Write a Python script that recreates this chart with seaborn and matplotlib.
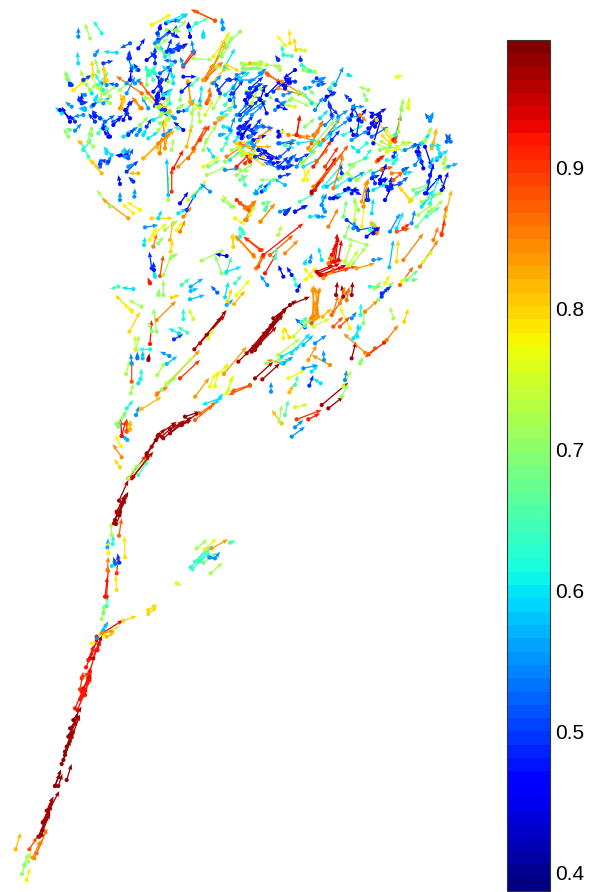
import matplotlib
matplotlib.use("Agg")
import matplotlib.pyplot as plt
from matplotlib.colors import Normalize
from matplotlib.cm import ScalarMappable
import numpy as np
import pandas as pd
import seaborn as sns

# vectors, per region: tail x, tail y, tip x, tip y, value
# (coordinates are in 3x units relative to the region corner)
top_left = [
    (525,62,452,28,.88),(335,75,395,42,.78),(378,70,420,58,.5),(415,62,445,40,.58),(548,88,545,52,.55),
    (115,110,115,82,.55),(185,100,160,62,.62),(150,115,135,70,.72),(352,100,365,70,.5),(445,80,445,65,.47),
    (450,110,445,70,.47),(490,110,490,88,.58),(408,90,440,60,.7),(470,70,505,55,.65),(385,95,420,115,.47),
    (355,120,395,90,.5),(600,95,560,135,.7),(545,160,568,95,.74),(520,200,555,115,.83),(495,240,560,130,.85),
    (395,155,445,130,.47),(430,200,470,150,.92),(295,145,315,115,.48),(270,130,240,145,.52),(230,158,190,155,.6),
    (165,165,178,145,.55),(115,190,112,155,.6),(320,180,350,155,.47),(345,190,345,140,.5),(375,170,360,135,.6),
    (395,195,385,150,.62),(400,155,420,125,.52),(355,145,390,170,.68),(270,175,265,155,.5),(275,205,262,165,.52),
    (190,190,220,182,.5),(175,215,165,175,.7),(160,225,155,180,.8),(140,255,120,210,.72),(100,270,150,230,.78),
    (80,235,75,210,.72),(95,255,80,240,.5),(175,255,205,215,.65),(195,245,190,195,.82),(305,280,228,228,.86),
    (350,310,295,240,.88),(345,318,385,270,.5),(210,620,170,570,.72),(265,655,185,595,.83),(240,600,240,575,.55),
    (283,590,285,565,.55),(300,630,260,605,.78),(280,640,245,610,.78),(335,655,400,655,.8),(385,600,385,525,.72),
    (395,575,395,505,.9),(400,505,430,450,.92),(385,585,380,475,.58),(420,610,445,575,.47),(440,630,470,575,.5),
    (415,640,440,625,.6),(445,600,500,540,.75),(460,590,490,555,.6),(430,650,455,620,.85),(355,655,365,630,.6),
    (590,600,630,630,.9),(620,625,650,600,.85),(580,620,545,585,.73),(510,575,480,550,.55),(240,552,235,525,.48),
    (280,545,265,530,.5),(260,515,295,482,.5),(295,520,265,520,.82),(185,520,150,478,.82),(180,495,180,475,.5),
    (202,490,215,465,.55),(145,470,125,430,.65),(215,465,190,440,.6),(260,470,225,465,.47),(255,470,270,445,.55),
    (250,455,255,440,.6),(85,410,70,385,.7),(265,400,295,380,.55),(290,405,305,385,.55),(190,385,190,365,.47),
    (205,410,190,390,.47),(165,365,145,340,.5),(130,345,100,350,.55),(135,325,115,325,.58),(65,340,45,320,.6),
    (90,365,65,320,.47),(118,300,115,285,.5),(155,320,190,295,.58),(220,365,250,345,.52),(260,340,270,300,.5),
    (270,355,255,330,.47),(300,375,325,350,.7),(240,325,250,285,.85),(300,325,280,295,.82),(315,295,345,290,.72),
    (350,320,300,275,.75),(365,330,385,350,.5),(340,360,395,330,.6),(385,340,345,320,.65),(355,390,395,350,.72),
    (360,370,405,340,.68),(375,445,370,360,.85),(358,460,350,430,.82),(310,475,395,390,.83),(370,405,400,385,.55),
    (430,390,400,365,.47),(415,335,445,330,.5),(455,380,460,300,.72),(440,440,455,380,.82),(480,320,480,290,.55),
    (505,300,515,275,.88),(500,310,505,290,.88),(450,305,445,235,.82),(420,300,425,260,.7),(490,240,520,190,.85),
    (515,250,560,200,.82),(540,280,525,245,.5),(580,280,610,240,.5),(555,285,590,250,.6),(430,230,470,230,.48),
    (400,250,395,215,.6),(365,240,345,225,.5),(370,295,355,235,.47),(340,240,320,200,.65),(350,300,355,270,.47),
    (320,255,320,195,.7),(200,255,175,245,.55),(130,240,155,225,.5),(260,250,280,225,.55),(240,270,275,235,.72),
    (290,210,270,190,.6),(285,250,305,235,.55),(265,175,270,150,.5),(250,305,240,280,.8),(190,310,210,290,.55),
    (165,300,175,280,.6),(185,270,165,250,.7),(150,270,170,250,.72),(210,290,190,240,.72),(155,280,145,260,.6),
    (600,240,650,240,.55),(610,205,655,205,.72),(610,195,660,190,.75),(590,225,620,215,.55),(630,290,660,255,.5),
    (620,310,640,270,.48),(600,360,655,300,.5),(610,385,640,345,.5),(625,410,655,395,.48),(595,400,620,370,.47),
    (640,440,660,410,.55),(575,450,640,420,.72),(560,470,620,430,.85),(505,500,540,480,.68),(520,470,500,440,.6),
    (490,500,540,470,.78),(545,450,565,420,.65),(585,425,600,400,.6),(590,500,630,460,.92),(555,510,600,505,.55),
    (615,555,605,520,.65),(590,525,640,490,.72),(500,525,560,500,.72),(525,370,550,350,.85),(460,445,500,375,.88),
    (480,420,510,375,.9),(445,475,490,400,.87),(415,500,470,445,.84),(500,420,530,375,.72),(490,450,500,415,.72),
    (495,345,520,300,.75),(480,365,475,330,.72),(545,340,580,320,.6),(590,345,625,310,.55),(520,325,545,280,.72),
]

top_right = [
    (150,70,148,28,.79),(168,90,162,52,.8),(135,75,110,45,.77),(195,92,170,85,.75),(130,105,125,75,.62),
    (115,120,105,105,.5),(182,120,180,105,.5),(155,108,130,105,.65),(5,130,75,125,.72),(10,145,50,145,.7),
    (30,130,70,135,.82),(0,175,30,155,.6),(60,160,80,145,.55),(85,165,125,190,.87),(120,150,100,130,.72),
    (165,150,130,175,.47),(145,185,130,170,.47),(225,155,180,135,.72),(190,150,215,160,.7),(220,185,255,185,.55),
    (230,175,250,190,.5),(285,195,310,140,.55),(270,205,285,180,.65),(325,165,340,170,.6),(330,240,312,222,.5),
    (280,220,260,205,.5),(385,210,355,200,.72),(380,240,368,215,.7),(470,170,490,168,.77),(485,270,490,235,.7),
    (505,262,508,230,.76),(570,302,555,280,.52),(570,302,580,275,.55),(555,365,575,320,.72),(580,370,590,325,.82),
    (632,365,620,345,.53),(620,365,632,340,.52),(170,345,180,285,.92),(215,370,250,300,.88),(205,385,240,325,.85),
    (180,350,250,370,.85),(250,360,300,295,.87),(30,205,70,170,.5),(25,230,60,195,.48),(100,215,135,185,.5),
    (135,205,160,180,.47),(130,195,150,170,.47),(60,205,100,240,.7),(115,205,190,225,.84),(20,215,80,250,.72),
    (130,225,160,215,.55),(150,240,120,260,.68),(190,225,240,260,.72),(200,205,225,225,.68),(215,250,185,215,.6),
    (165,260,135,255,.75),(255,240,285,215,.52),(275,285,265,240,.5),(240,295,265,270,.6),(295,290,325,270,.55),
    (340,260,375,260,.55),(335,285,340,255,.48),(355,300,380,265,.47),(325,295,365,285,.55),(395,290,440,265,.47),
    (420,290,385,275,.47),(405,320,425,285,.47),(385,340,410,290,.48),(360,285,380,305,.85),(465,345,485,285,.62),
    (440,330,460,360,.75),(410,300,460,370,.8),(460,360,475,345,.92),(5,355,30,310,.47),(40,340,10,320,.5),
    (50,320,25,360,.52),(0,320,30,300,.48),(30,350,70,310,.55),(60,350,100,320,.85),(115,350,130,325,.48),
    (120,370,170,360,.55),(135,375,165,385,.65),(215,395,280,330,.65),(225,370,285,300,.7),(270,340,325,300,.55),
    (310,345,370,315,.62),(335,360,385,330,.55),(340,345,330,320,.47),(350,345,360,285,.5),(395,350,445,320,.52),
    (400,365,445,390,.72),(450,380,500,395,.68),(490,368,520,368,.72),(525,375,555,370,.52),(575,378,605,375,.6),
    (555,380,575,440,.47),(530,395,550,440,.47),(460,410,470,385,.5),(440,420,480,420,.62),(600,400,590,375,.6),
    (615,445,615,405,.72),(625,440,655,430,.57),(590,420,610,400,.55),(545,425,530,395,.5),(570,465,580,430,.48),
    (600,470,615,510,.47),(215,520,290,410,.93),(225,510,290,420,.92),(215,515,270,440,.97),(220,500,310,400,.85),
    (190,480,210,445,.78),(185,430,205,490,.78),(245,480,325,375,.88),(250,500,310,430,.62),(260,500,305,470,.58),
    (270,535,300,525,.5),(165,575,200,555,.47),(120,575,145,568,.55),(135,582,150,568,.5),(235,590,260,590,.55),
    (265,620,295,565,.85),(245,555,250,520,.58),(60,605,105,550,.82),(15,565,50,545,.85),(20,600,45,550,.85),
    (0,550,25,570,.88),(45,520,70,490,.58),(65,515,85,490,.5),(70,550,95,545,.68),(75,570,85,550,.65),
    (115,445,70,425,.55),(120,440,165,435,.5),(120,470,155,460,.5),(130,445,155,440,.48),(100,480,55,480,.7),
    (90,425,40,410,.5),(70,410,25,400,.8),(0,390,60,420,.78),(30,410,80,440,.8),(15,430,35,405,.9),
    (0,450,30,455,.72),(0,480,25,465,.68),(300,475,350,430,.72),(290,500,335,470,.62),(315,510,360,510,.47),
    (335,520,350,500,.48),(365,545,380,480,.83),(380,540,380,500,.5),(345,600,345,530,.75),(310,590,320,540,.68),
    (365,620,375,545,.78),(395,580,400,535,.6),(320,600,360,630,.5),(355,630,410,620,.52),(395,610,415,625,.82),
    (410,640,420,620,.85),(420,490,440,470,.48),(445,510,455,470,.47),(400,460,440,440,.55),(460,480,490,455,.88),
    (510,545,470,485,.8),(510,540,545,510,.72),(520,510,575,490,.68),(555,520,600,470,.47),(545,560,580,510,.6),
    (535,585,580,550,.72),(560,590,600,560,.65),(605,640,620,555,.88),(615,590,635,510,.82),(575,570,610,540,.72),
    (450,635,480,580,.55),(470,625,490,575,.6),(470,635,510,625,.88),(490,625,510,610,.9),(515,610,525,570,.55),
    (530,620,575,565,.68),(600,520,615,480,.72),(550,550,590,520,.6),(440,500,490,490,.5),(480,490,505,470,.52),
    (400,510,440,490,.6),(425,450,460,440,.88),(490,450,510,440,.52),(410,425,430,405,.85),(330,435,390,410,.68),
    (350,480,400,445,.68),(170,420,210,400,.5),(115,440,145,410,.5),(145,430,170,400,.55),(190,440,240,415,.6),
    (75,395,120,420,.47),(35,370,75,395,.55),(0,370,50,395,.85),
]

middle_left = [
    (132,75,135,50,.6),(160,80,170,40,.85),(175,70,190,50,.7),(155,145,148,95,.5),(162,150,160,125,.48),
    (150,190,143,172,.92),(180,168,190,105,.88),(165,170,160,150,.6),(190,165,215,105,.72),(212,95,218,60,.8),
    (240,35,255,0,.85),(210,60,220,0,.82),(230,30,250,5,.77),(195,30,235,0,.72),(160,45,200,10,.77),
    (135,22,175,15,.55),(148,60,170,20,.78),(215,110,235,100,.7),(100,207,65,203,.6),(55,200,30,207,.65),
    (95,272,45,225,.8),(125,260,85,240,.72),(95,275,70,250,.78),(88,335,120,275,.8),(170,300,228,243,.84),
    (150,372,155,300,.92),(155,335,145,305,.7),(170,335,160,265,.7),(175,225,178,205,.7),(190,225,190,180,.7),
    (215,232,240,225,.8),(245,195,270,175,.65),(272,200,310,175,.57),(272,213,295,205,.58),(270,238,315,225,.58),
    (352,218,332,197,.52),(375,232,385,185,.6),(383,245,395,205,.8),(380,255,400,238,.57),(402,252,435,212,.82),
    (410,225,450,178,.77),(405,190,425,165,.65),(305,122,375,88,.72),(380,108,345,102,.45),(365,160,345,105,.7),
    (378,160,395,110,.66),(380,155,425,140,.6),(250,297,250,265,.62),(280,297,265,265,.75),(237,340,205,325,.6),
    (262,338,232,320,.65),(222,358,250,342,.5),(283,388,380,270,.97),(300,370,375,285,.95),(320,345,365,290,.97),
    (325,355,340,325,.75),(145,420,148,400,.98),(112,415,112,395,.53),(128,415,128,392,.58),(95,430,92,400,.55),
    (95,485,95,420,.88),(108,390,118,345,.72),(105,388,105,345,.75),(150,388,115,388,.62),(78,462,90,420,.72),
    (115,490,125,465,.6),(122,478,125,445,.62),(92,520,100,490,.72),(208,408,180,395,.55),(200,432,232,408,.58),
    (172,465,195,425,.72),(170,525,300,390,.83),(200,490,280,410,.73),(185,510,230,470,.7),(240,475,300,420,.9),
    (172,520,205,500,.85),(370,460,385,430,.73),(330,500,345,460,.77),(345,498,355,450,.78),(285,530,328,473,.83),
    (352,465,385,430,.78),(372,462,440,380,.83),(380,520,400,465,.77),(385,510,395,470,.75),(450,497,385,525,.88),
    (450,495,390,515,.88),(360,535,305,555,.6),(350,545,370,520,.6),(125,567,185,530,.82),(108,585,118,558,.55),
    (80,565,100,540,.62),(65,648,62,597,.93),(80,633,80,595,.9),(90,630,90,600,.8),(50,612,80,570,.7),
    (55,620,80,575,.68),(168,660,195,625,.98),(190,655,255,600,.97),(210,640,275,590,.97),(245,615,300,575,.97),
    (255,590,300,575,.98),(285,600,340,555,.87),(300,580,350,545,.87),(415,425,470,370,.97),(440,400,500,330,.97),
    (460,385,520,310,.97),(480,365,540,280,.97),(500,340,560,265,.98),(470,378,530,295,.98),(520,295,590,240,.98),
    (570,255,630,230,.98),(462,110,405,48,.83),(485,90,432,50,.88),(468,145,490,100,.85),(475,140,495,100,.88),
    (495,160,530,100,.92),(490,105,610,10,.92),(510,105,580,45,.87),(525,115,530,80,.65),(555,100,595,60,.84),
    (535,45,545,15,.73),(400,80,400,40,.8),(430,40,425,20,.65),
    (465,390,525,310,.97),(475,370,520,305,.98),(485,355,530,300,.97),(490,350,545,275,.97),(495,345,550,285,.97),
    (505,330,560,260,.98),(455,395,510,320,.97),(480,370,530,320,.96),
]

middle_right = [
    (250,125,262,40,.93),(265,120,275,60,.93),(240,130,255,75,.92),(205,160,270,130,.94),(215,165,290,135,.94),
    (225,165,300,145,.9),(250,150,320,140,.88),(220,175,250,150,.83),(320,145,375,130,.83),(295,135,325,90,.74),
    (285,125,305,65,.73),(310,130,348,80,.72),(350,75,290,55,.72),(258,225,262,185,.97),(280,230,275,195,.97),
    (305,225,308,185,.97),(270,250,285,200,.85),(245,285,295,210,.87),(290,240,298,200,.86),(250,275,265,225,.85),
    (190,300,190,195,.83),(198,295,210,200,.83),(205,290,195,200,.83),(185,310,205,260,.88),(165,322,135,295,.52),
    (165,318,185,295,.65),(155,305,175,290,.65),(300,325,270,260,.78),(270,320,300,290,.88),(250,320,280,290,.88),
    (218,290,245,265,.82),(305,295,320,275,.55),(332,285,332,250,.62),(340,310,345,265,.7),(345,275,385,240,.84),
    (385,240,430,185,.7),(395,230,415,200,.5),(395,220,425,198,.5),(360,200,395,200,.63),(375,205,395,185,.72),
    (405,190,420,165,.78),(430,295,420,260,.72),(463,305,475,265,.8),(410,360,445,315,.85),(402,368,345,412,.92),
    (375,385,345,410,.88),(305,415,318,365,.97),(345,398,280,340,.84),(322,350,325,310,.6),(310,355,335,315,.6),
    (418,142,430,60,.58),(440,125,445,60,.8),(460,120,520,40,.85),(450,195,490,140,.87),(455,185,470,170,.76),
    (490,180,505,178,.68),(470,180,505,150,.67),(510,140,565,60,.85),(520,125,550,90,.75),(550,60,565,20,.85),
    (575,45,585,0,.9),(350,50,385,20,.48),(370,40,390,20,.45),(370,120,400,115,.55),(360,30,375,5,.65),
    (310,25,315,0,.55),(285,50,300,10,.7),(100,170,85,135,.45),(125,165,110,140,.48),(142,212,152,188,.48),
    (138,195,130,165,.62),(52,195,30,165,.55),(183,170,160,140,.78),(168,178,200,140,.78),(165,130,170,115,.6),
    (180,125,185,100,.55),(215,120,205,80,.6),(118,352,100,320,.8),(100,355,100,320,.78),(85,405,150,355,.73),
    (95,410,150,380,.6),(100,430,50,420,.85),(100,430,130,410,.55),(125,400,180,340,.6),(175,420,200,375,.83),
    (240,435,185,405,.84),(222,420,220,390,.55),(195,370,230,345,.55),(160,375,190,345,.58),(130,350,180,295,.74),
    (190,320,240,295,.75),(160,445,205,435,.55),(185,455,205,435,.6),(135,495,145,465,.65),(115,475,165,450,.77),
    (178,497,190,465,.5),(212,490,190,475,.6),(63,515,63,485,.55),(118,517,130,495,.82),(95,610,65,570,.82),
    (88,605,95,555,.72),(105,585,115,540,.66),(135,562,175,552,.75),(140,598,215,570,.9),(175,598,210,580,.92),
    (215,555,295,488,.97),(235,565,280,530,.97),(275,530,295,490,.7),(280,500,305,450,.74),(285,480,290,450,.55),
    (135,622,160,600,.55),(125,650,165,620,.55),(15,475,70,425,.97),(37,478,90,430,.97),(50,430,100,415,.7),
    (95,430,120,415,.6),(330,430,340,410,.7),
    (255,125,265,50,.93),(245,105,262,65,.93),(210,165,280,140,.94),(235,130,280,120,.85),(240,115,275,125,.84),
    (200,155,250,135,.95),(188,290,192,200,.84),(200,280,205,205,.84),(195,265,185,200,.83),(183,295,200,240,.84),
]

lower_stem = [
    (365,48,378,0,.92),(380,35,380,0,.88),(390,28,392,0,.82),(382,60,365,45,.57),(363,78,345,45,.78),
    (365,112,338,72,.84),(360,142,342,117,.8),(350,12,360,0,.7),(545,15,575,0,.97),(510,28,550,5,.97),
    (485,50,530,10,.97),(455,80,480,35,.97),(440,100,475,50,.97),(395,175,460,95,.95),(385,175,440,105,.92),
    (415,165,445,120,.65),(385,175,408,140,.72),(410,140,450,110,.7),(357,242,385,180,.97),(367,250,385,215,.97),
    (350,275,375,225,.97),(360,275,378,235,.97),(342,310,355,268,.97),(348,312,365,275,.97),(357,347,365,295,.87),
    (375,412,373,348,.79),(338,372,340,345,.62),(322,382,325,355,.57),(335,345,333,305,.72),(325,400,325,365,.78),
    (322,450,325,410,.85),(320,530,325,440,.92),(315,530,322,470,.92),(350,460,355,405,.9),(350,510,347,465,.79),
    (335,438,358,432,.6),(345,430,340,410,.52),(358,428,352,400,.5),(320,558,322,525,.65),(310,580,312,550,.68),
    (305,597,315,560,.72),(290,650,370,600,.93),(370,602,410,588,.8),(290,655,325,605,.55),(310,630,322,607,.58),
    (275,670,320,640,.78),(300,645,360,618,.73),(305,640,345,632,.84),(320,650,345,635,.82),(270,715,295,650,.95),
    (280,715,300,660,.95),(292,690,305,645,.97),(445,570,472,552,.8),(445,582,472,560,.8),(530,490,545,498,.75),
    (572,442,640,375,.62),(578,448,630,385,.65),(590,385,622,358,.72),(615,388,650,355,.78),(635,385,685,358,.83),
    (598,425,632,398,.63),(610,428,650,398,.68),(585,425,625,380,.65),(628,412,645,415,.55),(645,415,660,395,.55),
    (632,460,668,428,.72),(690,368,708,362,.66),
    (355,285,380,220,.97),(345,300,370,240,.98),(440,105,480,40,.97),(475,45,530,5,.97),(400,170,450,105,.96),
]

bottom_trunk = [
    (80,720,90,683,.78),(66,702,78,665,.7),(72,675,85,640,.7),(85,665,93,635,.72),(47,628,62,578,.82),
    (88,628,112,590,.88),(98,653,122,600,.84),(103,655,128,597,.84),(110,640,142,565,.86),(115,590,140,530,.97),
    (125,585,150,510,.97),(140,512,160,470,.97),(150,505,178,453,.97),(165,438,183,388,.98),(175,438,187,402,.98),
    (200,420,215,372,.98),(185,372,212,300,.98),(195,345,220,270,.98),(205,290,235,220,.98),(215,292,240,225,.97),
    (232,210,262,140,.93),(240,178,268,100,.92),(240,148,250,95,.9),(255,165,272,80,.92),(258,82,280,30,.92),
    (270,95,290,20,.92),(292,30,303,0,.92),(128,548,158,480,.97),(135,540,155,495,.97),(190,360,215,290,.98),
    (210,285,230,240,.98),(245,170,275,110,.92),(262,130,270,90,.92),(265,60,282,15,.92),
    (165,438,180,400,.98),(195,335,215,275,.98),(200,320,225,265,.97),(225,205,255,135,.92),(245,155,270,105,.92),
    (250,145,275,100,.93),(245,115,270,95,.9),(130,545,160,470,.97),(118,590,145,525,.97),(128,570,150,520,.97),
    (210,265,240,225,.97),(220,240,245,200,.98),
]

crown_west = [
    (25,60,18,35,.68),(40,90,75,60,.78),(30,75,25,65,.5),(75,105,60,100,.55),(65,125,65,100,.48),
    (65,130,85,125,.5),(100,135,110,125,.5),(35,140,15,125,.55),(0,150,40,180,.47),(45,185,30,165,.5),
    (30,210,15,205,.68),(45,212,65,190,.55),(75,150,55,145,.58),(105,170,95,155,.48),(120,175,95,150,.5),
    (135,185,165,165,.52),(140,205,120,165,.6),(150,230,135,195,.47),(95,225,95,195,.7),(115,220,130,195,.65),
    (85,245,90,210,.7),(100,260,80,240,.72),(62,248,50,240,.82),(70,270,95,235,.62),(140,280,135,260,.6),
    (160,195,185,170,.47),(190,180,205,150,.48),(195,150,220,120,.48),(185,145,195,105,.82),(205,225,225,205,.5),
    (240,210,245,200,.55),(130,90,105,40,.62),(140,60,130,20,.8),(115,85,90,40,.75),(170,75,145,70,.52),
    (200,100,225,50,.55),(210,60,215,20,.47),(235,30,220,10,.5),(120,120,130,90,.72),(150,130,130,115,.72),
    (135,100,175,75,.7),(265,145,245,110,.55),(245,145,215,110,.85),(300,135,255,90,.88),(290,130,300,100,.48),
    (315,150,290,130,.5),(330,130,325,90,.62),(305,160,330,125,.72),(300,170,335,145,.7),(290,110,310,80,.48),
    (270,40,290,15,.65),(265,45,255,15,.62),(320,60,335,20,.5),(300,80,305,50,.5),(315,195,320,165,.78),
    (300,280,305,230,.85),(250,295,345,210,.82),(315,265,325,215,.83),(295,250,330,220,.85),(335,270,340,235,.72),
    (265,235,295,215,.6),(260,200,275,175,.5),(200,285,170,285,.47),(200,290,195,265,.55),(205,295,220,265,.52),
    (250,225,260,205,.6),(190,230,205,225,.6),(145,305,120,300,.5),(205,320,225,310,.55),(120,320,125,295,.52),
    (110,320,85,295,.8),(345,175,330,165,.55),(355,205,340,200,.65),
]

crown_top = [
    (5,45,65,12,.78),(55,35,110,10,.6),(195,32,130,0,.88),(220,55,215,25,.55),(30,55,30,40,.47),
    (15,100,30,65,.55),(50,125,65,85,.5),(70,75,80,45,.5),(120,80,115,35,.47),(85,120,110,105,.5),
    (160,80,160,60,.6),(190,140,240,65,.78),(210,130,250,75,.72),(100,165,135,115,.9),(130,125,125,90,.55),
    (130,145,190,150,.72),(170,205,220,155,.86),(160,210,215,155,.83),(200,170,245,180,.72),(225,170,255,115,.6),
    (215,140,240,100,.7),(125,280,110,205,.83),(150,290,155,225,.6),(175,270,180,230,.85),(190,220,215,195,.55),
    (205,240,240,200,.5),(250,235,270,195,.55),(280,175,335,175,.68),(280,165,345,165,.75),(300,215,345,185,.55),
    (300,250,355,225,.5),(285,270,325,230,.47),(290,310,350,270,.55),(240,300,255,265,.7),(205,325,240,310,.65),
    (150,295,120,270,.78),(125,310,150,275,.72),(100,165,90,140,.55),(30,190,65,165,.52),(70,200,35,165,.6),
    (75,155,40,150,.52),(15,190,0,175,.62),(55,215,25,205,.7),(10,245,40,205,.48),(40,255,70,235,.6),
    (30,290,60,260,.72),(60,305,35,285,.82),(95,245,125,215,.48),(110,300,135,265,.6),(85,295,105,280,.7),
    (125,225,150,200,.65),(60,120,100,105,.5),(15,140,0,125,.5),(20,110,55,85,.72),(25,95,60,65,.55),
    (50,60,95,65,.7),(120,60,145,30,.62),(240,270,245,240,.5),(330,270,345,230,.47),
]

crown_center = [
    (20,15,60,35,.8),(70,15,130,10,.72),(75,30,130,25,.7),(140,15,190,20,.72),(30,60,60,55,.5),
    (90,85,130,70,.5),(140,40,185,70,.87),(185,65,250,105,.84),(140,105,185,60,.47),(195,80,215,50,.48),
    (225,65,190,60,.5),(80,100,130,120,.5),(95,130,110,95,.75),(45,140,40,100,.55),(15,135,35,105,.65),
    (0,175,20,170,.82),(60,165,100,130,.5),(95,165,130,135,.55),(140,160,125,120,.48),(175,140,205,150,.48),
    (170,120,195,140,.5),(165,150,200,120,.55),(215,115,270,140,.72),(235,95,280,130,.7),(255,85,280,80,.55),
    (295,75,320,70,.52),(300,60,320,50,.55),(245,15,280,40,.62),(230,225,240,165,.92),(205,225,275,230,.85),
    (280,225,310,185,.85),(255,200,285,175,.7),(285,150,310,110,.55),(320,110,350,95,.47),(330,140,355,165,.5),
    (315,195,345,165,.55),(345,205,355,165,.62),(335,240,360,210,.5),(300,255,340,220,.6),(270,270,300,240,.82),
    (280,320,335,240,.92),(315,320,355,260,.9),(290,305,325,265,.87),(235,250,290,240,.6),(175,250,225,250,.52),
    (180,290,215,260,.52),(155,295,125,265,.47),(205,305,220,285,.5),(230,320,250,290,.55),(250,305,290,270,.7),
    (175,215,185,235,.47),(185,215,220,230,.75),(60,180,85,150,.55),(30,210,45,170,.55),(55,205,75,235,.5),
    (65,225,95,190,.47),(95,210,125,175,.5),(130,200,160,205,.52),(100,240,140,225,.48),(10,200,35,205,.6),
    (20,235,40,205,.6),(0,225,20,220,.57),(50,250,125,240,.8),(65,285,120,265,.72),(30,300,95,240,.6),
    (85,260,155,260,.82),(75,280,50,250,.75),(90,305,90,280,.92),(15,305,75,270,.7),(115,270,155,300,.47),
    (105,290,135,280,.5),(160,310,185,305,.48),
]

crown_east = [
    (60,60,75,10,.5),(95,65,65,15,.5),(125,70,155,35,.47),(130,130,155,50,.47),(115,85,150,60,.48),
    (195,125,212,45,.88),(205,95,215,10,.72),(235,25,235,0,.76),(300,60,285,40,.53),(300,60,310,40,.55),
    (285,120,305,80,.72),(305,145,320,85,.82),(275,130,300,100,.6),(355,115,345,100,.52),(200,140,240,125,.75),
    (180,130,150,100,.8),(85,155,60,135,.6),(110,130,75,160,.62),(155,125,190,145,.72),(150,150,190,140,.7),
    (170,155,210,145,.78),(105,175,125,145,.62),(145,180,165,165,.92),(190,190,205,160,.62),(225,150,260,135,.55),
    (265,165,265,130,.5),(280,205,265,145,.47),(300,200,310,170,.58),(255,195,275,165,.55),(340,190,350,165,.72),
    (320,175,355,150,.6),(35,220,30,190,.5),(60,240,105,215,.55),(10,265,40,165,.85),(100,320,115,235,.84),
    (115,300,115,260,.5),(80,240,45,215,.72),(125,235,150,225,.5),(150,240,170,190,.47),(135,250,125,220,.5),
    (150,250,175,235,.47),(185,220,235,215,.85),(225,220,250,215,.6),(185,265,180,240,.5),(165,300,190,250,.47),
    (245,300,205,260,.8),(260,280,300,260,.65),(290,280,310,190,.47),(295,245,305,215,.5),(275,305,330,280,.72),
    (300,310,325,235,.62),(335,270,355,215,.48),(55,265,95,285,.47),(25,285,65,265,.6),(85,330,70,295,.7),
    (10,295,35,290,.47),
]

crown_south = [
    (35,170,0,145,.7),(85,180,50,150,.88),(75,210,100,160,.84),(122,215,165,160,.84),(90,195,105,165,.75),
    (40,290,35,250,.8),(100,315,45,255,.85),(120,300,70,260,.9),(45,205,75,225,.78),(60,260,60,225,.62),
    (200,185,215,170,.5),(225,185,265,165,.48),(270,200,300,195,.6),(305,165,320,130,.55),(315,185,305,165,.55),
    (240,155,285,130,.65),(195,105,160,85,.58),(110,130,105,115,.55),(135,120,155,90,.6),
]

regions = [
    (top_left, 40, 0),
    (top_right, 240, 20),
    (middle_left, 100, 220),
    (middle_right, 250, 220),
    (lower_stem, 0, 420),
    (bottom_trunk, 0, 640),
    (crown_west, 60, 60),
    (crown_top, 150, 10),
    (crown_center, 220, 60),
    (crown_east, 330, 100),
    (crown_south, 220, 150),
]

cbar_ticks = [0.4, 0.5, 0.6, 0.7, 0.8, 0.9]
value_range = (0.387, 0.99)

frames = []
for rows, ox, oy in regions:
    d = pd.DataFrame(rows, columns=["x0", "y0", "x1", "y1", "value"])
    d["x"] = ox + d["x0"] / 3
    d["y"] = oy + d["y0"] / 3
    d["u"] = (d["x1"] - d["x0"]) / 3
    d["v"] = (d["y1"] - d["y0"]) / 3
    frames.append(d)
df = pd.concat(frames, ignore_index=True)

sns.set_theme(style="white")
plt.rcParams["font.family"] = ["Liberation Sans", "DejaVu Sans"]

jet = plt.get_cmap("jet", 64)
norm = Normalize(*value_range)

fig = plt.figure(figsize=(5.95, 8.92), dpi=100)
ax = fig.add_axes([0, 0, 1, 1])

ax.quiver(df["x"], df["y"], df["u"], df["v"], df["value"], cmap=jet, norm=norm,
          angles="xy", scale_units="xy", scale=1, units="dots", width=1.3,
          headwidth=3.5, headlength=4.5, headaxislength=4, minlength=0)
sns.scatterplot(data=df, x="x", y="y", hue="value", palette=jet, hue_norm=norm,
                s=9, linewidth=0, legend=False, ax=ax)
ax.set_xlim(0, 595)
ax.set_ylim(892, 0)
ax.axis("off")

cax = fig.add_axes([507 / 595, 1 / 892, 43 / 595, 851 / 892])
cb = fig.colorbar(ScalarMappable(norm=norm, cmap=jet), cax=cax, ticks=cbar_ticks)
cb.outline.set_linewidth(0.8)
cb.outline.set_edgecolor("#333333")
cax.tick_params(axis="y", direction="in", left=True, right=True, length=6.5, width=0.7,
                color="#222222", labelsize=15, pad=4, labelcolor="black")
cax.set_yticklabels([f"{t:.1f}" for t in cbar_ticks])

fig.savefig("out.png", dpi=100)
